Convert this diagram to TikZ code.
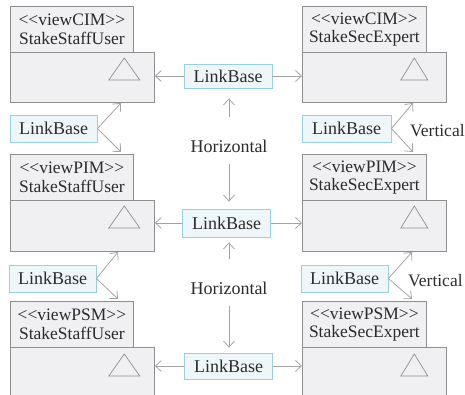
\documentclass[tikz,border=0pt]{standalone}
\usepackage{fontspec}
\setmainfont{Liberation Serif}
\usetikzlibrary{arrows.meta}
\definecolor{pkgfill}{HTML}{F0F0F2}
\definecolor{pkgline}{HTML}{8F8F8F}
\definecolor{lbfill}{HTML}{EEF6FA}
\definecolor{lbline}{HTML}{9ACFE0}
\definecolor{arrcol}{HTML}{A3A3A3}
\definecolor{txt}{HTML}{2B2B2B}
\begin{document}
\begin{tikzpicture}[x=1pt,y=-1pt,
 pkgbox/.style={draw=pkgline, fill=pkgfill, line width=0.8pt, anchor=north west, inner sep=0pt},
 lb/.style={draw=lbline, fill=lbfill, line width=0.8pt, text=txt, font=\fontsize{18}{20}\selectfont, inner sep=0pt, minimum width=88pt, minimum height=27pt},
 lbl/.style={text=txt, font=\fontsize{18}{20}\selectfont, inner sep=0pt},
 vlbl/.style={text=txt, font=\fontsize{17.5}{20}\selectfont, inner sep=0pt, anchor=west},
 tabtxt/.style={text=txt, font=\fontsize{17.5}{18.5}\selectfont, align=center, inner sep=0pt},
 arr/.style={draw=arrcol, line width=0.8pt, -{Straight Barb[length=6pt,width=11pt]}},
 tri/.style={draw=pkgline, line width=0.7pt}
]
\useasboundingbox (0,0) rectangle (465,395);
% ---- packages, left column
\node[pkgbox, minimum width=123pt, minimum height=46pt] (P1t) at (10,6) {};
\node[pkgbox, minimum width=144pt, minimum height=50pt] (P1b) at (10,52) {};
\node[tabtxt] at (P1t.center) {<\kern0pt<viewCIM>\kern0pt>\\StakeStaffUser};
\draw[tri, shift={(P1b.north east)}] (-30.5,6) -- (-15,28) -- (-46,28) -- cycle;

\node[pkgbox, minimum width=123pt, minimum height=46pt] (P2t) at (10,154) {};
\node[pkgbox, minimum width=144pt, minimum height=51pt] (P2b) at (10,200) {};
\node[tabtxt] at (P2t.center) {<\kern0pt<viewPIM>\kern0pt>\\StakeStaffUser};
\draw[tri, shift={(P2b.north east)}] (-30.5,6) -- (-15,28) -- (-46,28) -- cycle;

\node[pkgbox, minimum width=123pt, minimum height=46pt] (P3t) at (10,301) {};
\node[pkgbox, minimum width=144pt, minimum height=52pt] (P3b) at (10,347) {};
\node[tabtxt] at (P3t.center) {<\kern0pt<viewPSM>\kern0pt>\\StakeStaffUser};
\draw[tri, shift={(P3b.north east)}] (-30.5,7) -- (-15,29) -- (-46,29) -- cycle;

% ---- packages, right column
\node[pkgbox, minimum width=124pt, minimum height=46pt] (Q1t) at (302,6) {};
\node[pkgbox, minimum width=144pt, minimum height=50pt] (Q1b) at (302,52) {};
\node[tabtxt] at (Q1t.center) {<\kern0pt<viewCIM>\kern0pt>\\StakeSecExpert};
\draw[tri, shift={(Q1b.north east)}] (-32.5,6) -- (-19,28) -- (-46,28) -- cycle;

\node[pkgbox, minimum width=124pt, minimum height=46pt] (Q2t) at (302,154) {};
\node[pkgbox, minimum width=144pt, minimum height=51pt] (Q2b) at (302,200) {};
\node[tabtxt] at (Q2t.center) {<\kern0pt<viewPIM>\kern0pt>\\StakeSecExpert};
\draw[tri, shift={(Q2b.north east)}] (-32.5,6) -- (-19,28) -- (-46,28) -- cycle;

\node[pkgbox, minimum width=124pt, minimum height=46pt] (Q3t) at (302,301) {};
\node[pkgbox, minimum width=144pt, minimum height=52pt] (Q3b) at (302,347) {};
\node[tabtxt] at (Q3t.center) {<\kern0pt<viewPSM>\kern0pt>\\StakeSecExpert};
\draw[tri, shift={(Q3b.north east)}] (-32.5,7) -- (-19,29) -- (-46,29) -- cycle;

% ---- LinkBase boxes
\node[lb, minimum width=87pt] (L1) at (53.5,128.5) {LinkBase};
\node[lb, minimum width=87pt] (L2) at (52.5,278.5) {LinkBase};
\node[lb, minimum width=89pt] (R1) at (346.5,128.5) {LinkBase};
\node[lb, minimum width=87pt] (R2) at (344.5,278.5) {LinkBase};
\node[lb, minimum height=24pt] (M1) at (228,76) {LinkBase};
\node[lb, minimum height=28pt] (M2) at (226.5,223) {LinkBase};
\node[lb, minimum height=26pt] (M3) at (228.5,366) {LinkBase};

% ---- labels
\node[lbl] (H1) at (229,146) {Horizontal};
\node[lbl] (H2) at (229,288) {Horizontal};
\node[vlbl] (V1) at (410,131) {Vertical};
\node[vlbl] (V2) at (408,281) {Vertical};

% ---- arrow end points on the packages
\coordinate (a1u) at (121,103);
\coordinate (a1d) at (121,152);
\coordinate (b1u) at (413,103);
\coordinate (b1d) at (413,152);
\coordinate (a2u) at (118,252);
\coordinate (a2d) at (118,299);
\coordinate (b2u) at (412,252);
\coordinate (b2d) at (412,299);

% ---- horizontal links
\draw[arr] (M1.west) -- (M1.west -| P1b.east);
\draw[arr] (M1.east) -- (M1.east -| Q1b.west);
\draw[arr] (M2.west) -- (M2.west -| P2b.east);
\draw[arr] (M2.east) -- (M2.east -| Q2b.west);
\draw[arr] (M3.west) -- (M3.west -| P3b.east);
\draw[arr] (M3.east) -- (M3.east -| Q3b.west);

% ---- "Horizontal" arrows
\draw[arr, shorten <=22pt, shorten >=10pt] (H1.north) -- (H1.north |- M1.south);
\draw[arr, shorten <=11pt, shorten >=7pt] (H1.south) -- (H1.south |- M2.north);
\draw[arr, shorten <=22pt, shorten >=5pt] (H2.north) -- (H2.north |- M2.south);
\draw[arr, shorten <=11pt, shorten >=5pt] (H2.south) -- (H2.south |- M3.north);

% ---- vertical links
\draw[arr] (L1.east) -- (a1u);
\draw[arr] (L1.east) -- (a1d);
\draw[arr] (R1.east) -- (b1u);
\draw[arr] (R1.east) -- (b1d);
\draw[arr] (L2.east) -- (a2u);
\draw[arr] (L2.east) -- (a2d);
\draw[arr] (R2.east) -- (b2u);
\draw[arr] (R2.east) -- (b2d);
\end{tikzpicture}
\end{document}
